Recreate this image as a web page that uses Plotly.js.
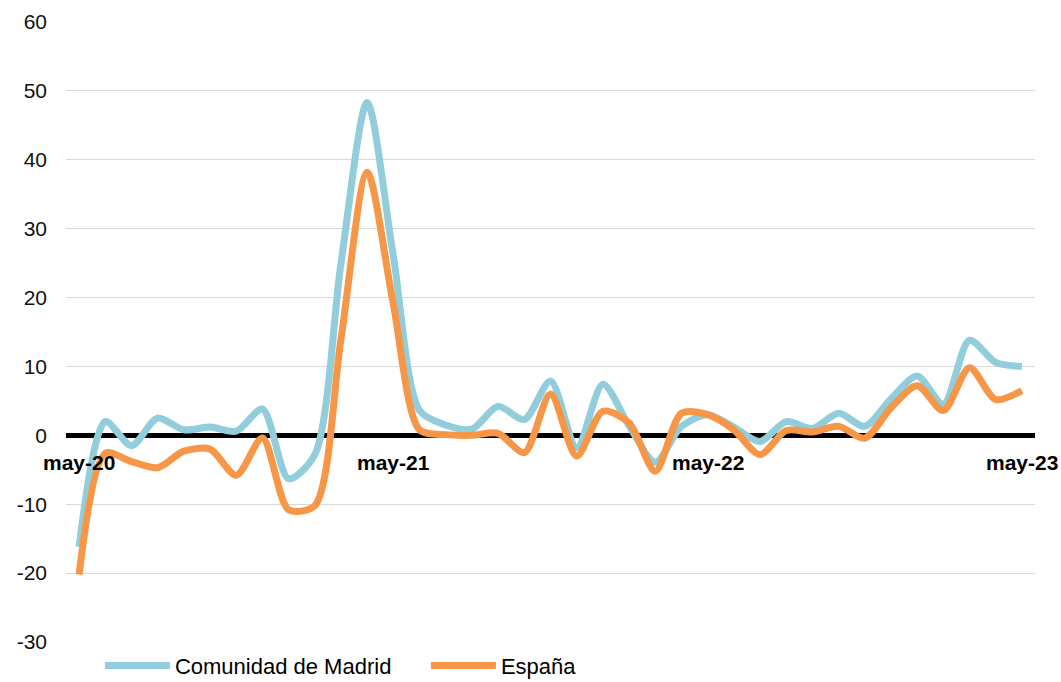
<!DOCTYPE html>
<html>
<head>
<meta charset="utf-8">
<script src="https://cdn.plot.ly/plotly-3.0.1.min.js"></script>
<style>html,body{margin:0;padding:0;background:#fff}#chart{width:1061px;height:682px}</style>
</head>
<body>
<div id="chart"></div>
<script>
const months = ["may-20","jun-20","jul-20","ago-20","sep-20","oct-20","nov-20","dic-20",
  "ene-21","feb-21","mar-21","abr-21","may-21","jun-21","jul-21","ago-21","sep-21","oct-21","nov-21","dic-21",
  "ene-22","feb-22","mar-22","abr-22","may-22","jun-22","jul-22","ago-22","sep-22","oct-22","nov-22","dic-22",
  "ene-23","feb-23","mar-23","abr-23","may-23"];
const madrid = [-16.2, 2.0, -1.5, 2.5, 0.8, 1.2, 0.6, 3.8,
  -6.3, -2.8, 25.0, 48.3, 26.0, 3.6, 1.5, 0.9, 4.2, 2.3, 7.9, -1.8,
  7.4, 1.4, -3.9, 1.3, 3.0, 1.2, -0.9, 2.0, 1.0, 3.2, 1.3, 5.3,
  8.6, 4.5, 13.8, 10.6, 10.0];
const espana = [-20.2, -2.6, -3.8, -4.7, -2.3, -2.0, -5.8, -0.4,
  -10.8, -10.2, 14.0, 38.2, 19.0, 0.8, 0.1, 0.0, 0.3, -2.5, 6.0, -3.0,
  3.5, 1.8, -5.2, 3.2, 3.0, 0.8, -2.8, 0.7, 0.5, 1.3, -0.4, 4.0,
  7.2, 3.6, 9.8, 5.2, 6.5];
const tickLabels = ["may-20","may-21","may-22","may-23"];
const yTickVals = [-30, -20, -10, 0, 10, 20, 30, 40, 50, 60];
const yTickText = ["-30","-20","-10","0","10","20","30","40","50","60"];
const seriesNames = ["Comunidad de Madrid","España"];

const traces = [
  {x: months, y: madrid, name: seriesNames[0], type: "scatter", mode: "lines",
   line: {color: "#92CDDC", width: 7, shape: "spline", smoothing: 0.8}},
  {x: months, y: espana, name: seriesNames[1], type: "scatter", mode: "lines",
   line: {color: "#F79646", width: 7, shape: "spline", smoothing: 0.8}}
];

const annotations = tickLabels.map(t => ({
  x: t, y: 0, xref: "x", yref: "y", text: t, showarrow: false,
  yanchor: "top", yshift: -14,
  font: {family: "Liberation Sans, Arial, sans-serif", size: 21, color: "#000", weight: "bold"}
}));

const layout = {
  width: 1061, height: 682,
  margin: {l: 66, r: 26, t: 22, b: 40},
  paper_bgcolor: "#fff", plot_bgcolor: "#fff",
  font: {family: "Liberation Sans, Arial, sans-serif", size: 21, color: "#000"},
  xaxis: {type: "category", range: [-0.5, 36.5], showticklabels: false, showgrid: false,
          zeroline: false, showline: false, ticks: ""},
  yaxis: {range: [-30, 60], tickmode: "array", tickvals: yTickVals, ticktext: yTickText,
          showgrid: true, gridcolor: "#d9d9d9", gridwidth: 1,
          zeroline: true, zerolinecolor: "#000", zerolinewidth: 5, showline: false, ticks: "",
          ticklabelstandoff: 18, tickfont: {size: 21, color: "#111"}},
  showlegend: true,
  legend: {orientation: "h", xref: "paper", x: 0.035, xanchor: "left",
           yref: "container", y: 0.024, yanchor: "middle",
           font: {size: 22, color: "#000"}, itemwidth: 65, entrywidth: 246, entrywidthmode: "pixels",
           bgcolor: "rgba(0,0,0,0)"},
  annotations: annotations
};

Plotly.newPlot("chart", traces, layout, {displayModeBar: false, staticPlot: true});
</script>
</body>
</html>
